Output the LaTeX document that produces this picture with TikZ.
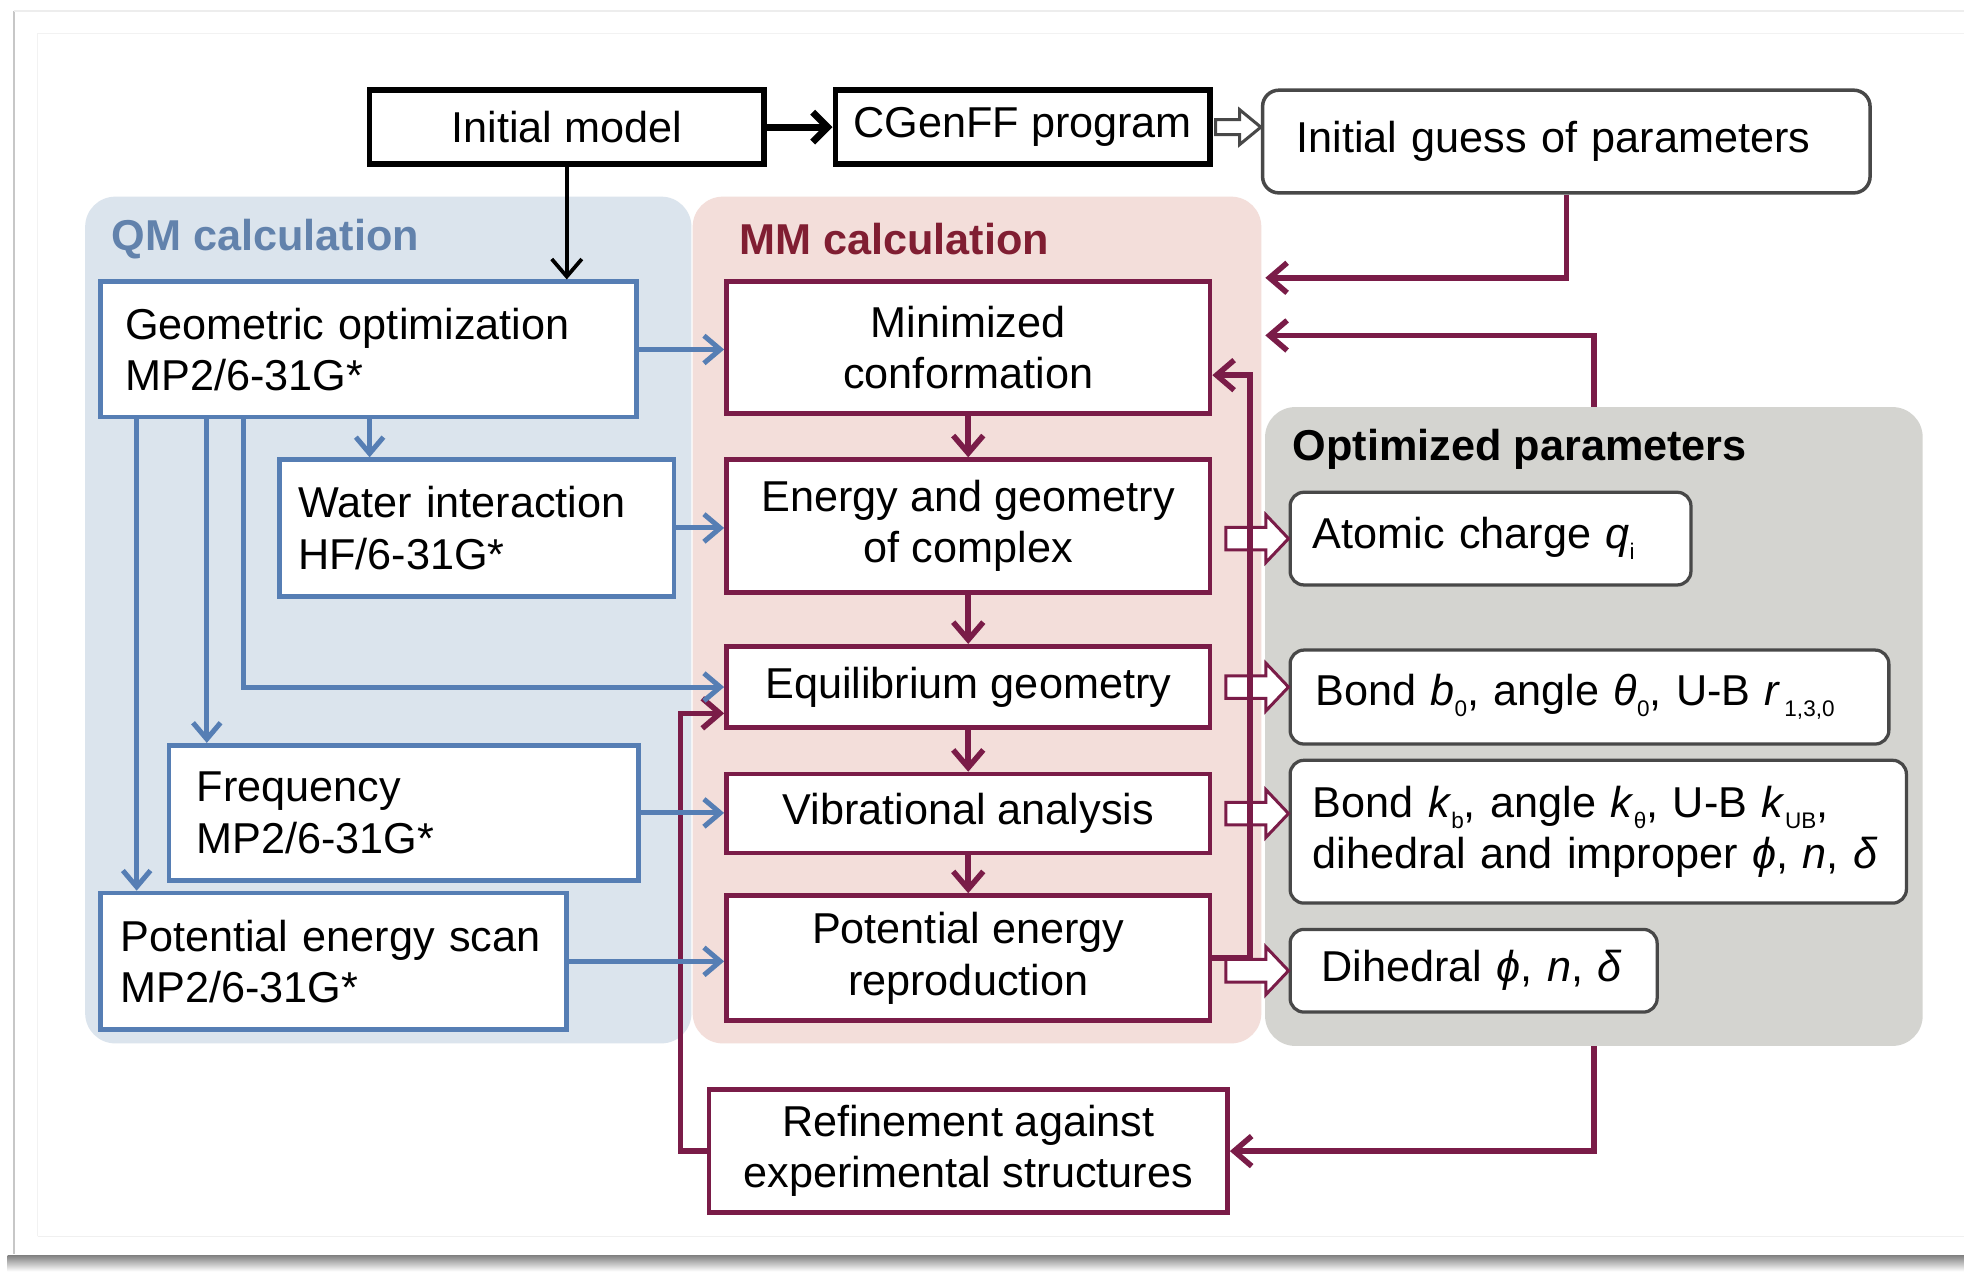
\documentclass[tikz,border=0pt]{standalone}
\usepackage{fontspec}
\setmainfont{Liberation Sans}
\usetikzlibrary{arrows.meta,calc}

\definecolor{qmfill}{RGB}{219,228,237}
\definecolor{mmfill}{RGB}{243,222,218}
\definecolor{optfill}{RGB}{212,212,208}
\definecolor{qmline}{RGB}{86,126,180}
\definecolor{qmtitle}{RGB}{98,130,172}
\definecolor{mmline}{RGB}{122,28,72}
\definecolor{mmtitle}{RGB}{128,30,50}
\definecolor{parline}{RGB}{72,72,72}

% small lowered index used in the parameter boxes
\newcommand\sbs[1]{\raisebox{-9pt}{\fontsize{18}{18}\selectfont #1}}

\begin{document}
\begin{tikzpicture}[x=1pt,y=-1pt,
  every node/.style={font=\fontsize{34.5}{41}\selectfont},
  panel/.style={draw=none, rounded corners=24, inner sep=0},
  paneltitle/.style={anchor=west, inner sep=0, font=\fontsize{34.5}{41}\selectfont\bfseries},
  blackbox/.style={draw=black, line width=4.6, fill=white, inner sep=0, minimum height=59},
  qmbox/.style={draw=qmline, line width=3.8, fill=white, align=left, inner ysep=0},
  mmbox/.style={draw=mmline, line width=3.8, fill=white, align=center, inner sep=0, minimum width=386},
  parbox/.style={draw=parline, line width=2.6, rounded corners=11, fill=white, align=left, inner ysep=0},
  blu/.style={draw=qmline, line width=4, -{Straight Barb[length=13pt,width=22pt]}},
  redc/.style={draw=mmline, line width=4.4, -{Straight Barb[length=14pt,width=24pt]}},
  blk/.style={draw=black, line width=3, -{Straight Barb[length=14pt,width=24pt]}},
  blkthick/.style={draw=black, line width=5.5, -{Straight Barb[length=12pt,width=24pt]}},
  hollow/.style={draw=mmline, line width=2.4, fill=white, line join=miter},
  hollowgray/.style={draw=parline, line width=2.4, fill=white, line join=miter}
]
\useasboundingbox (0,0) rectangle (1568,1018);
\fill[white] (0,0) rectangle (1568,1018);

% photo card edges and drop shadow
\shade[top color=black!50, bottom color=white] (6,1002) rectangle (1568,1015);
\draw[black!22, line width=2] (11,9) -- (11,1001);
\draw[black!7, line width=1.5] (11,9) -- (1568,9);
\draw[black!5, line width=1] (30,987) -- (30,27) -- (1568,27);
\draw[black!6, line width=1] (30,987) -- (1568,987);

% background panels
\node[panel, fill=qmfill, minimum width=484, minimum height=676] (qmpanel) at (310,495) {};
\node[panel, fill=mmfill, minimum width=454, minimum height=676] (mmpanel) at (780,495) {};
\node[panel, fill=optfill, minimum width=525, minimum height=510] (optpanel) at (1272.5,580) {};

\node[paneltitle, text=qmtitle] (qmtitle) at (89,191) {QM calculation};
\node[paneltitle, text=mmtitle] (mmtitle) at (590,191) {MM calculation};
\node[paneltitle, text=black] (opttitle) at (1032,359) {Optimized parameters};

% top row
\node[blackbox, minimum width=315] (init) at (452.5,101.5) {Initial model};
\node[blackbox, minimum width=299] (cgenff) at (816.5,101.5) {CGenFF program};
\node[draw=parline, line width=2.8, rounded corners=13, fill=white, align=left,
      inner ysep=0, inner xsep=27, text width=431, minimum height=82] (guess) at (1250.5,113)
      {Initial guess of parameters};

% QM boxes
\node[qmbox, inner xsep=20, text width=388, minimum height=108] (geo) at (294,279)
  {Geometric optimization\\MP2/6-31G*};
\node[qmbox, inner xsep=15, text width=285, minimum height=109] (water) at (380.5,421.5)
  {Water interaction\\HF/6-31G*};
\node[qmbox, inner xsep=22, text width=331, minimum height=108] (freq) at (322.5,649)
  {Frequency\\MP2/6-31G*};
\node[qmbox, inner xsep=16, text width=340, minimum height=109] (pes) at (266,767.5)
  {Potential energy scan\\MP2/6-31G*};

% MM boxes
\node[mmbox, minimum height=105] (mini) at (773,277.5) {Minimized\\conformation};
\node[mmbox, minimum height=106] (energy) at (773,420) {Energy and geometry\\of complex};
\node[mmbox, minimum height=65] (equil) at (773,548.5) {Equilibrium geometry};
\node[mmbox, minimum height=63] (vib) at (773,649.5) {Vibrational analysis};
\node[mmbox, minimum height=100] (pot) at (773,765) {Potential energy\\reproduction};
\node[mmbox, minimum width=414, minimum height=98] (refine) at (773,919)
  {Refinement against\\experimental structures};

% optimized parameter boxes
\node[parbox, inner xsep=18, text width=284, minimum height=74] (charge) at (1190,430)
  {Atomic charge \textit{q}\sbs{i}};
\node[parbox, inner xsep=20, text width=438, minimum height=75] (bond0) at (1269,556.5)
  {Bond \textit{b}\sbs{0}, angle \textit{θ}\sbs{0}, U-B \textit{r}\hspace{3pt}\sbs{1,3,0}};
\node[parbox, inner xsep=18, text width=456, minimum height=114] (bondk) at (1276,664)
  {Bond \textit{k}\sbs{b}, angle \textit{k}\sbs{θ}, U-B \textit{k}\sbs{UB},\\dihedral and improper \textit{ϕ}, \textit{n}, \textit{δ}};
\node[parbox, inner xsep=25, text width=243, minimum height=66] (dihed) at (1176.5,775)
  {Dihedral \textit{ϕ}, \textit{n}, \textit{δ}};

% hollow output arrows
\draw[hollowgray] (guess.west |- cgenff.east) -- ++(-17,-14) -- ++(0,8) -- ++(-19,0)
  -- ++(0,12) -- ++(19,0) -- ++(0,8) -- cycle;
\draw[hollow] (charge.west) -- ++(-18,-19) -- ++(0,10) -- ++(-32,0)
  -- ++(0,18) -- ++(32,0) -- ++(0,10) -- cycle;
\draw[hollow] (bond0.west |- equil.east) -- ++(-18,-19) -- ++(0,10) -- ++(-32,0)
  -- ++(0,18) -- ++(32,0) -- ++(0,10) -- cycle;
\draw[hollow] (bondk.west |- vib.east) -- ++(-18,-19) -- ++(0,10) -- ++(-32,0)
  -- ++(0,18) -- ++(32,0) -- ++(0,10) -- cycle;
\draw[hollow] (dihed.west) -- ++(-18,-19) -- ++(0,10) -- ++(-32,0)
  -- ++(0,18) -- ++(32,0) -- ++(0,10) -- cycle;

% black connectors
\draw[blkthick] (init) -- (cgenff);
\draw[blk] (init.south) -- (init.south |- geo.north);

% MM chain and feedback loops
\draw[redc] (mini) -- (energy);
\draw[redc] (energy) -- (equil);
\draw[redc] (equil) -- (vib);
\draw[redc] (vib) -- (pot);
\draw[redc] (pot.east) -- ++(30,0) |- ($(mini.east)+(0,22)$);
\draw[redc] (refine.west) -- ++(-21,0) |- ($(equil.west)+(0,21)$);
\draw[redc] (guess.south) |- ($(mmpanel.north east)+(3,65)$);
\draw[redc] (optpanel.north) |- ($(mmpanel.north east)+(3,111)$);
\draw[redc] (optpanel.south) |- (refine.east);

% QM connectors
\draw[blu] (geo.east) -- (geo.east -| mini.west);
\draw[blu] (water.east) -- (water.east -| energy.west);
\draw[blu] (freq.east) -- (freq.east -| vib.west);
\draw[blu] (pes.east) -- (pes.east -| pot.west);
\draw[blu] ($(geo.south west)+(217,0)$) -- ($(water.north west)+(74,0)$);
\draw[blu] ($(geo.south west)+(31,0)$) -- ($(pes.north west)+(31,0)$);
\draw[blu] ($(geo.south west)+(87,0)$) -- ($(freq.north west)+(32,0)$);
\draw[blu] ($(geo.south west)+(116,0)$) |- (equil.west);
\end{tikzpicture}
\end{document}
